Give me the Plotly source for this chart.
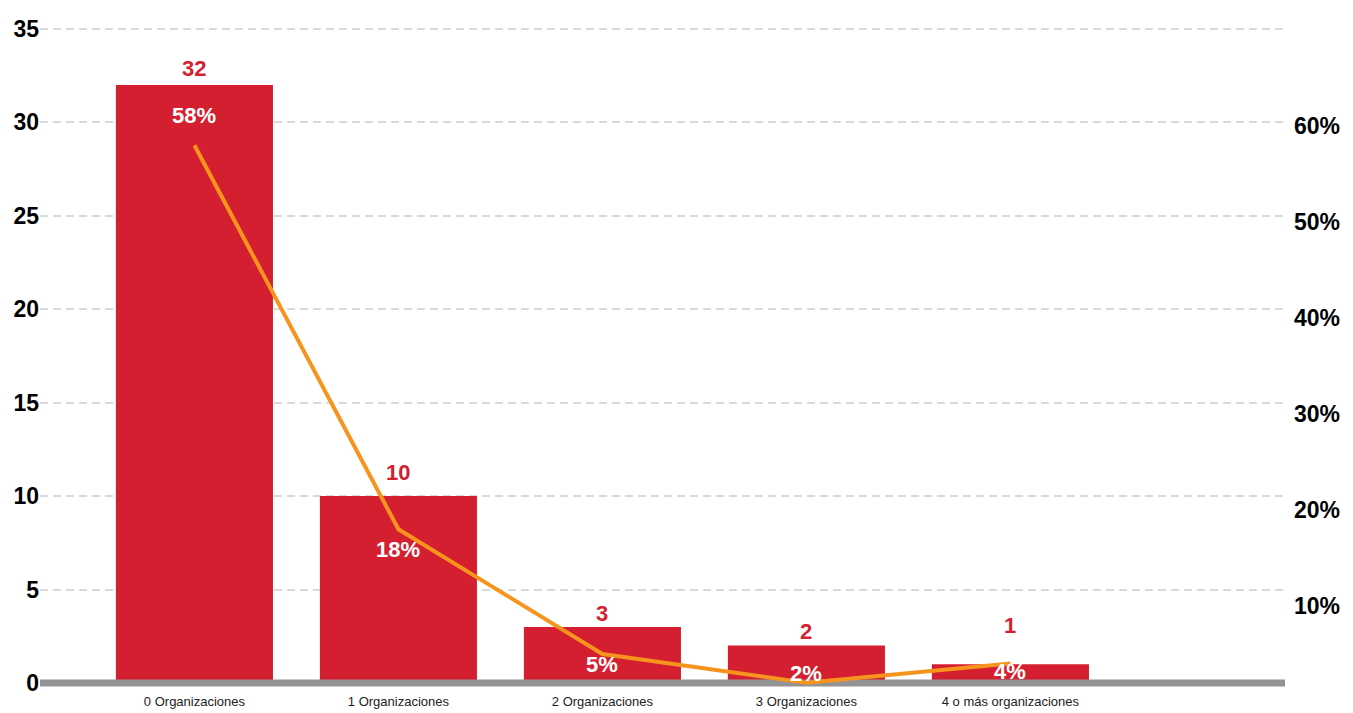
import plotly.graph_objects as go

# Data
categories = ["0 Organizaciones", "1 Organizaciones", "2 Organizaciones",
              "3 Organizaciones", "4 o más organizaciones"]
counts = [32, 10, 3, 2, 1]
shares = [0.58, 0.18, 0.05, 0.02, 0.04]
count_ticks = [0, 5, 10, 15, 20, 25, 30, 35]
share_ticks = [0.10, 0.20, 0.30, 0.40, 0.50, 0.60]

# Styling
RED = "#D41F30"
ORANGE = "#F7941D"
BASE_GREY = "#939393"
GRID_GREY = "#D9D9D9"
FONT = "Liberation Sans, Arial, sans-serif"
x_range = [-0.757, 5.346]
count_range = [-0.27, 35.48]
share_range = [0.0146, 0.7104]
count_label_shift = [17, 24, 13, 14, 39]
pct_label_shift = [30, -20, -10, 9, -8]

positions = list(range(len(categories)))

fig = go.Figure()

fig.add_trace(go.Bar(
    x=positions, y=counts, width=0.77,
    marker=dict(color=RED, line=dict(width=0)),
    yaxis="y", hoverinfo="skip",
))

# thick baseline along zero
fig.add_trace(go.Scatter(
    x=x_range, y=[0, 0], mode="lines",
    line=dict(color=BASE_GREY, width=7),
    yaxis="y", hoverinfo="skip",
))

fig.add_trace(go.Scatter(
    x=positions, y=shares, mode="lines",
    line=dict(color=ORANGE, width=4),
    yaxis="y2", hoverinfo="skip",
))

annotations = []
for i, c in enumerate(counts):
    annotations.append(dict(
        x=i, y=c, xref="x", yref="y", text=str(c), showarrow=False,
        yanchor="middle", yshift=count_label_shift[i],
        font=dict(family=FONT, size=22, color=RED, weight="bold"),
    ))
for i, s in enumerate(shares):
    annotations.append(dict(
        x=i, y=s, xref="x", yref="y2", text=f"{round(s * 100)}%",
        showarrow=False, yanchor="middle", yshift=pct_label_shift[i],
        font=dict(family=FONT, size=22, color="white", weight="bold"),
    ))

fig.update_layout(
    width=1353, height=713,
    margin=dict(l=40, r=68, t=20, b=25),
    paper_bgcolor="white", plot_bgcolor="white",
    showlegend=False,
    font=dict(family=FONT),
    annotations=annotations,
    xaxis=dict(
        range=x_range, tickvals=positions, ticktext=categories,
        showgrid=False, zeroline=False, showline=False, ticks="",
        ticklabelstandoff=4, automargin=False,
        tickfont=dict(family=FONT, size=13, color="#222222"),
    ),
    yaxis=dict(
        range=count_range, tickvals=count_ticks,
        showgrid=True, gridcolor=GRID_GREY, gridwidth=2, griddash="8px,5px",
        zeroline=False, showline=False, ticks="", automargin=False,
        tickfont=dict(family=FONT, size=23, color="black", weight="bold"),
    ),
    yaxis2=dict(
        overlaying="y", side="right", range=share_range,
        tickvals=share_ticks, tickformat=".0%",
        showgrid=False, zeroline=False, showline=False, ticks="",
        ticklabelstandoff=8, automargin=False,
        tickfont=dict(family=FONT, size=23, color="black", weight="bold"),
    ),
)

fig.write_html("out.html")
